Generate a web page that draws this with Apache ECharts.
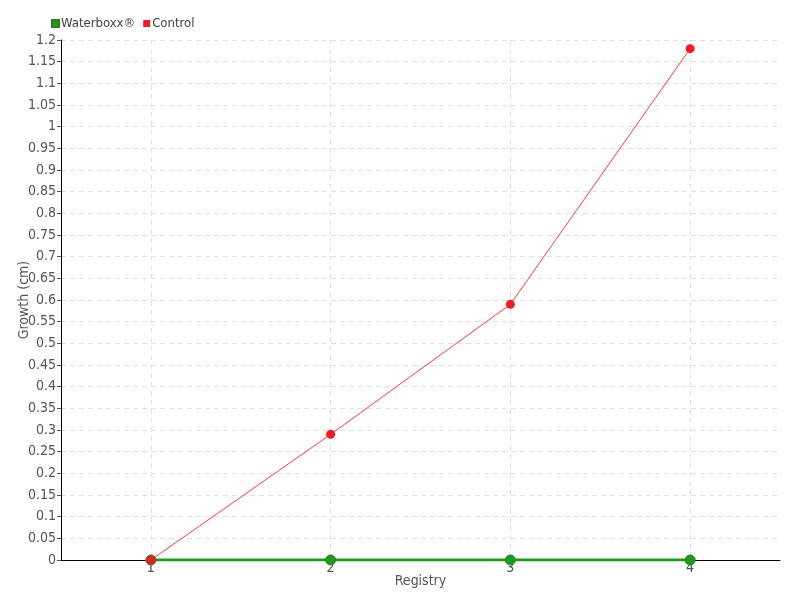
<!DOCTYPE html>
<html><head><meta charset="utf-8">
<script src="https://cdn.jsdelivr.net/npm/echarts@6/dist/echarts.min.js"></script>
<style>html,body{margin:0;padding:0;background:#fff}#c{width:800px;height:600px}</style>
</head><body><div id="c"></div>
<script>
const categories = ['1', '2', '3', '4'];
const waterboxx = [0, 0, 0, 0];
const control = [0, 0.29, 0.59, 1.18];
const seriesNames = ['Waterboxx®', 'Control'];

const FONT = '"DejaVu Sans Condensed", "Liberation Sans Narrow", sans-serif';
const chart = echarts.init(document.getElementById('c'));
chart.setOption({
  animation: false,
  textStyle: { fontFamily: FONT },
  legend: {
    left: 46, top: 12, itemWidth: 7, itemHeight: 7, itemGap: 8,
    icon: 'rect',
    textStyle: { fontFamily: FONT, fontSize: 13, color: '#444', padding: [0, 0, 0, -3] },
    data: seriesNames
  },
  grid: { left: 61, right: 20, top: 40, bottom: 40, outerBoundsMode: 'none', containLabel: false },
  xAxis: {
    type: 'category', data: categories,
    name: 'Registry', nameLocation: 'middle', nameGap: 14, nameMoveOverlap: false,
    nameTextStyle: { fontFamily: FONT, fontSize: 14, color: '#555' },
    axisLine: { lineStyle: { color: '#000' } },
    axisTick: { alignWithLabel: true, length: 6, lineStyle: { color: '#555' } },
    axisLabel: { fontFamily: FONT, fontSize: 14, color: '#555', margin: 1 },
    splitLine: { show: true, alignWithLabel: true, lineStyle: { type: [5, 4], color: '#e0e0e0' } }
  },
  yAxis: {
    type: 'value', min: 0, max: 1.2, interval: 0.05,
    name: 'Growth (cm)', nameLocation: 'middle', nameGap: 30, nameMoveOverlap: false,
    nameTextStyle: { fontFamily: FONT, fontSize: 14, color: '#555' },
    axisLine: { show: true, lineStyle: { color: '#000' } },
    axisTick: { show: true, length: 4, lineStyle: { color: '#555' } },
    axisLabel: { fontFamily: FONT, fontSize: 14, color: '#555', margin: 5,
      formatter: v => String(Math.round(v * 100) / 100) },
    splitLine: { show: true, lineStyle: { type: [5, 4], color: '#e0e0e0' } }
  },
  series: [
    { name: seriesNames[0], type: 'line', data: waterboxx,
      symbol: 'circle', symbolSize: 10,
      itemStyle: { color: '#1f9a1f', borderColor: '#2e7d1e', borderWidth: 1 },
      lineStyle: { width: 3, color: '#1f9a1f' } },
    { name: seriesNames[1], type: 'line', data: control,
      symbol: 'circle', symbolSize: 9,
      itemStyle: { color: '#ee1c25' },
      lineStyle: { width: 1, color: '#ff3b48' } }
  ]
});
</script></body></html>
